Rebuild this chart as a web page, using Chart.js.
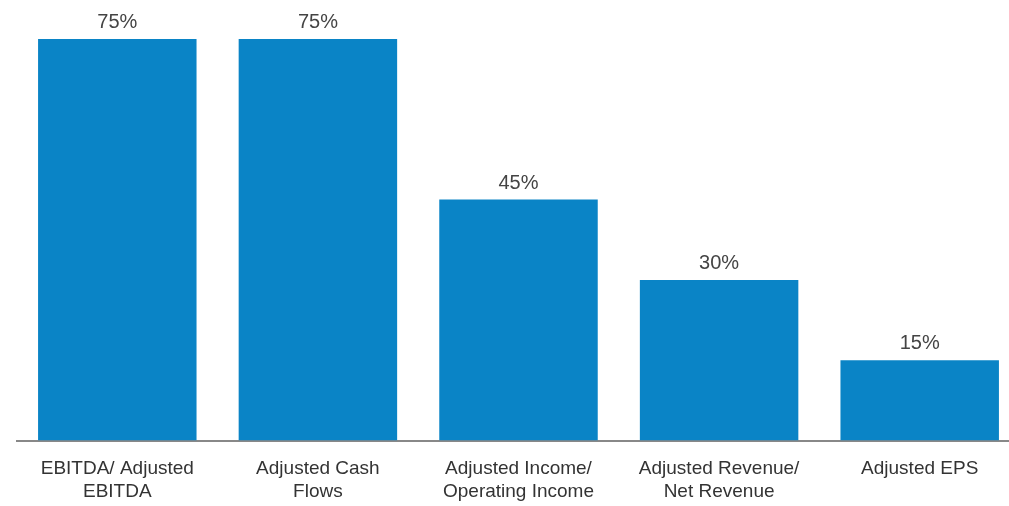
<!DOCTYPE html>
<html>
<head>
<meta charset="utf-8">
<script src="https://cdn.jsdelivr.net/npm/chart.js@4"></script>
<style>
  html, body { margin: 0; padding: 0; background: #fff; overflow: hidden; }
  #wrap { width: 1020px; height: 506px; position: relative; }
</style>
</head>
<body>
<div id="wrap"><canvas id="myChart"></canvas></div>
<script>
  // categories (multi-line labels) and values in percent
  const categories = [
    ['EBITDA/ Adjusted', 'EBITDA'],
    ['Adjusted Cash', 'Flows'],
    ['Adjusted Income/', 'Operating Income'],
    ['Adjusted Revenue/', 'Net Revenue'],
    ['Adjusted EPS']
  ];
  const weights = [75, 75, 45, 30, 15];
  const valueLabels = ['75%', '75%', '45%', '30%', '15%'];

  // draw the % label above each bar
  const topLabels = {
    id: 'topLabels',
    afterDatasetsDraw(chart) {
      const ctx = chart.ctx;
      const meta = chart.getDatasetMeta(0);
      ctx.save();
      ctx.font = '20px "Liberation Sans", Arial, sans-serif';
      ctx.fillStyle = '#444';
      ctx.textAlign = 'center';
      ctx.textBaseline = 'alphabetic';
      meta.data.forEach((bar, i) => {
        ctx.fillText(valueLabels[i], bar.x, bar.y - 11);
      });
      ctx.restore();
    }
  };

  function createChart() {
    const ctx = document.getElementById('myChart').getContext('2d');
    new Chart(ctx, {
      type: 'bar',
      data: {
        labels: categories,
        datasets: [{
          data: weights,
          backgroundColor: '#0a84c6',
          categoryPercentage: 1.0,
          barPercentage: 0.79
        }]
      },
      options: {
        responsive: true,
        maintainAspectRatio: false,
        animation: false,
        layout: { padding: { left: 17, right: 0, top: 39, bottom: -6 } },
        plugins: { legend: { display: false }, tooltip: { enabled: false } },
        scales: {
          x: {
            grid: { display: false },
            border: { display: true, color: '#888', width: 2 },
            ticks: {
              color: '#333',
              padding: 8,
              maxRotation: 0,
              autoSkip: false,
              font: { family: '"Liberation Sans", Arial, sans-serif', size: 19, lineHeight: 1.25 }
            }
          },
          y: {
            display: false,
            min: 0,
            max: 75
          }
        }
      },
      plugins: [topLabels]
    });
  }

  window.onload = function() {
    createChart();
  };
</script>
</body>
</html>
